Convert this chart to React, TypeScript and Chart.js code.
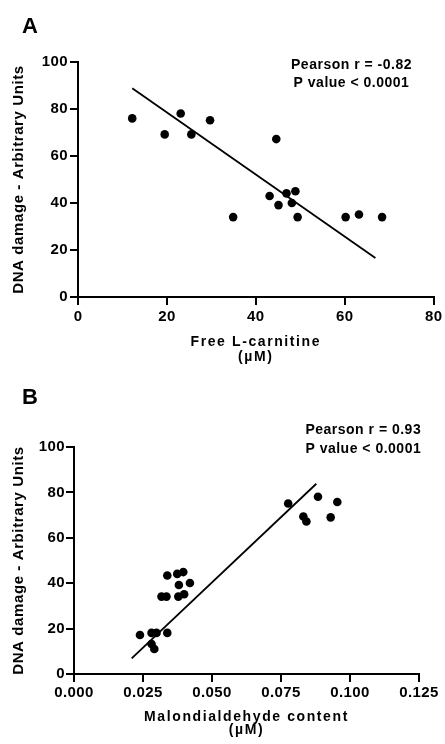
import { useEffect, useRef } from 'react';
import { Chart, registerables } from 'chart.js';

Chart.register(...registerables);

// Panel A: Free L-carnitine vs DNA damage
const carnitineValues = [12.2, 19.5, 23.1, 25.5, 29.7, 34.9, 44.6, 43.1, 45.1, 46.9, 48.9, 48.1, 49.4, 60.2, 63.2, 68.4];
const carnitineDamage = [76.0, 69.2, 78.1, 69.2, 75.2, 34.0, 67.2, 43.0, 39.1, 44.1, 45.0, 40.0, 34.0, 34.0, 35.1, 34.0];
const carnitineFitX = [12.2, 66.9];
const carnitineFitY = [88.8, 16.6];
const carnitineTicks = [0, 20, 40, 60, 80];
const carnitineTickLabels = ['0', '20', '40', '60', '80'];

// Panel B: Malondialdehyde vs DNA damage
const mdaValues = [0.0239, 0.0281, 0.0299, 0.0281, 0.0291, 0.0338, 0.0317, 0.0335, 0.0338, 0.0374, 0.0396, 0.038, 0.042, 0.0378, 0.0399, 0.0776, 0.0831, 0.0842, 0.0884, 0.093, 0.0954];
const mdaDamage = [17.2, 18.1, 18.1, 13.2, 11.0, 18.1, 34.1, 34.1, 43.4, 44.1, 44.9, 39.2, 40.1, 34.1, 35.1, 75.1, 69.4, 67.2, 78.1, 69.0, 75.8];
const mdaFitX = [0.0209, 0.0878];
const mdaFitY = [6.9, 83.8];
const mdaTicks = [0, 0.025, 0.05, 0.075, 0.1, 0.125];
const mdaTickLabels = ['0.000', '0.025', '0.050', '0.075', '0.100', '0.125'];

const damageTicks = [0, 20, 40, 60, 80, 100];
const damageTickLabels = ['0', '20', '40', '60', '80', '100'];

const FONT = '"Liberation Sans", Arial, Helvetica, sans-serif';

type PanelSpec = {
  letter: string;
  xs: number[];
  ys: number[];
  fitX: number[];
  fitY: number[];
  xTicks: number[];
  xTickLabels: string[];
  xTitle: string[];
  pearson: string[];
  pearsonX: number;
  pearsonY: number[];
  padTop: number;
  padRight: number;
  yWidth: number;
  xHeight: number;
  yTickPad: number;
  xTickPad: number;
  xTitleLine: number;
  xTitlePadBottom: number;
  letterBaseline: number;
};

const panelA: PanelSpec = {
  letter: 'A',
  xs: carnitineValues,
  ys: carnitineDamage,
  fitX: carnitineFitX,
  fitY: carnitineFitY,
  xTicks: carnitineTicks,
  xTickLabels: carnitineTickLabels,
  xTitle: ['Free L-carnitine', '(\u00b5M)'],
  pearson: ['Pearson r = -0.82', 'P value < 0.0001'],
  pearsonX: 351.5,
  pearsonY: [65, 83],
  padTop: 62,
  padRight: 10,
  yWidth: 78,
  xHeight: 75,
  yTickPad: 2,
  xTickPad: 3,
  xTitleLine: 15,
  xTitlePadBottom: 7.5,
  letterBaseline: 33,
};

const panelB: PanelSpec = {
  letter: 'B',
  xs: mdaValues,
  ys: mdaDamage,
  fitX: mdaFitX,
  fitY: mdaFitY,
  xTicks: mdaTicks,
  xTickLabels: mdaTickLabels,
  xTitle: ['Malondialdehyde content', '(\u00b5M)'],
  pearson: ['Pearson r = 0.93', 'P value < 0.0001'],
  pearsonX: 363.3,
  pearsonY: [58, 77],
  padTop: 75,
  padRight: 26,
  yWidth: 74,
  xHeight: 70,
  yTickPad: 1,
  xTickPad: 2,
  xTitleLine: 13.3,
  xTitlePadBottom: 7,
  letterBaseline: 32,
};

function makeChart(canvas: HTMLCanvasElement, p: PanelSpec) {
  const annotate = {
    id: 'annotate' + p.letter,
    beforeDraw(chart: any) {
      chart.ctx.letterSpacing = '0.4px';
      const sx = chart.scales.x;
      if (sx && !sx._spaced) {
        const orig = sx.drawTitle.bind(sx);
        sx.drawTitle = function () {
          const c = chart.ctx;
          const prev = c.letterSpacing;
          c.letterSpacing = '1.6px';
          orig();
          c.letterSpacing = prev;
        };
        sx._spaced = true;
      }
      const sy = chart.scales.y;
      if (sy && !sy._spaced) {
        const origY = sy.drawTitle.bind(sy);
        sy.drawTitle = function () {
          const c = chart.ctx;
          const prev = c.letterSpacing;
          c.letterSpacing = '0.6px';
          origY();
          c.letterSpacing = prev;
        };
        sy._spaced = true;
      }
    },
    afterDraw(chart: any) {
      const ctx = chart.ctx;
      ctx.save();
      ctx.fillStyle = '#000';
      ctx.letterSpacing = '0px';
      ctx.font = `bold 22px ${FONT}`;
      ctx.textAlign = 'left';
      ctx.textBaseline = 'alphabetic';
      ctx.fillText(p.letter, 22, p.letterBaseline);
      ctx.letterSpacing = '0.5px';
      ctx.font = `bold 14px ${FONT}`;
      ctx.textAlign = 'center';
      ctx.textBaseline = 'middle';
      p.pearson.forEach((t, i) => ctx.fillText(t, p.pearsonX, p.pearsonY[i]));
      ctx.restore();
    },
  };

  const tickFont = { family: FONT, size: 15, weight: 'bold' as const };

  return new Chart(canvas, {
    type: 'scatter',
    data: {
      datasets: [
        {
          data: p.xs.map((x, i) => ({ x, y: p.ys[i] })),
          backgroundColor: '#000',
          borderWidth: 0,
          pointRadius: 4.3,
          pointHoverRadius: 4.3,
        },
        {
          data: p.fitX.map((x, i) => ({ x, y: p.fitY[i] })),
          showLine: true,
          borderColor: '#000',
          borderWidth: 1.8,
          pointRadius: 0,
          pointHoverRadius: 0,
        },
      ],
    },
    options: {
      animation: false,
      responsive: false,
      events: [],
      layout: { padding: { top: p.padTop, right: p.padRight, left: 0, bottom: 0 } },
      plugins: {
        legend: { display: false },
        tooltip: { enabled: false },
        title: { display: false },
      },
      scales: {
        x: {
          type: 'linear',
          min: p.xTicks[0],
          max: p.xTicks[p.xTicks.length - 1],
          afterBuildTicks: (scale: any) => {
            scale.ticks = p.xTicks.map((v) => ({ value: v }));
          },
          afterFit: (scale: any) => {
            scale.height = p.xHeight;
          },
          ticks: {
            color: '#000',
            font: tickFont,
            padding: p.xTickPad,
            maxRotation: 0,
            autoSkip: false,
            callback: (_v: any, i: number) => p.xTickLabels[i],
          },
          grid: {
            display: true,
            drawOnChartArea: false,
            drawTicks: true,
            tickLength: 8,
            color: '#000',
            lineWidth: 2,
          },
          border: { display: true, color: '#000', width: 2 },
          title: {
            display: true,
            text: p.xTitle,
            color: '#000',
            font: { family: FONT, size: 14, weight: 'bold', lineHeight: p.xTitleLine / 14 },
            padding: { top: 0, bottom: p.xTitlePadBottom },
          },
        },
        y: {
          type: 'linear',
          min: 0,
          max: 100,
          afterBuildTicks: (scale: any) => {
            scale.ticks = damageTicks.map((v) => ({ value: v }));
          },
          afterFit: (scale: any) => {
            scale.width = p.yWidth;
          },
          ticks: {
            color: '#000',
            font: tickFont,
            padding: p.yTickPad,
            autoSkip: false,
            callback: (_v: any, i: number) => damageTickLabels[i],
          },
          grid: {
            display: true,
            drawOnChartArea: false,
            drawTicks: true,
            tickLength: 8,
            color: '#000',
            lineWidth: 2,
          },
          border: { display: true, color: '#000', width: 2 },
          title: {
            display: true,
            text: 'DNA damage - Arbitrary Units',
            color: '#000',
            font: { family: FONT, size: 15, weight: 'bold', lineHeight: 1.2 },
            padding: { top: 10, bottom: 0 },
          },
        },
      },
    },
    plugins: [annotate],
  } as any);
}

function Panel({ spec, top }: { spec: PanelSpec; top: number }) {
  const ref = useRef<HTMLCanvasElement | null>(null);
  useEffect(() => {
    if (!ref.current) return;
    const chart = makeChart(ref.current, spec);
    return () => chart.destroy();
  }, [spec]);
  return (
    <div style={{ position: 'absolute', left: 0, top, width: 445, height: 372 }}>
      <canvas ref={ref} width={445} height={372} style={{ display: 'block', width: 445, height: 372 }} />
    </div>
  );
}

export default function App() {
  return (
    <div style={{ position: 'absolute', left: 0, top: 0, width: 445, height: 744, background: '#fff' }}>
      <Panel spec={panelA} top={0} />
      <Panel spec={panelB} top={372} />
    </div>
  );
}
